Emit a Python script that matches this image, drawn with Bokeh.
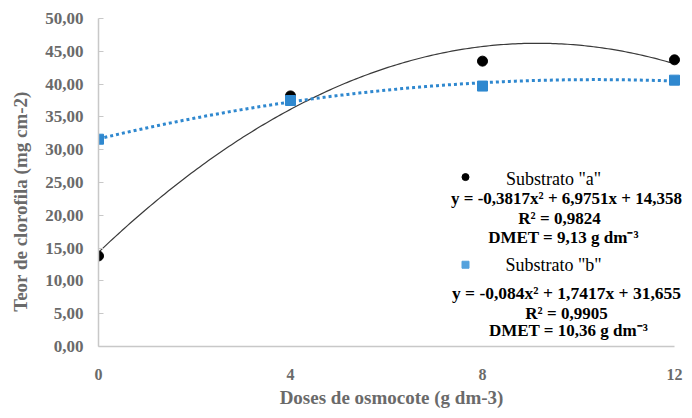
import numpy as np
from bokeh.plotting import figure
from bokeh.models import Range1d, FixedTicker, CustomJSTickFormatter
from bokeh.core.properties import value
from bokeh.embed import file_html
from bokeh.resources import INLINE

# data
doses = [0, 4, 8, 12]
subst_a = [13.8, 38.2, 43.5, 43.7]
subst_b = [31.6, 37.5, 39.7, 40.6]
coef_a = [-0.3817, 6.9751, 14.358]
coef_b = [-0.084, 1.7417, 31.655]
x_ticks = [0, 4, 8, 12]
y_ticks = [0, 5, 10, 15, 20, 25, 30, 35, 40, 45, 50]

SERIF = "Liberation Serif"
GRAY = "#6a6a6a"
BLUE = "#2f88cf"
LBLUE = "#55a2dd"

W, H = 684, 410
L, R, T, B = 98, 0, 18, 59
FW = W - L - R
FH = H - T - B
X12 = 674                      # image x where dose 12 sits
PXU = (X12 - L) / 12           # px per dose unit
p = figure(width=W, height=H, output_backend="svg", toolbar_location=None,
           x_range=Range1d(0, FW / PXU), y_range=Range1d(0, 50),
           min_border_left=L, min_border_right=R, min_border_top=T, min_border_bottom=B)
p.outline_line_color = None
p.xgrid.visible = False
p.ygrid.visible = False

# trend curves from the displayed regression equations
xs = np.linspace(0, 12, 200)
ya = coef_a[0] * xs**2 + coef_a[1] * xs + coef_a[2]
yb = coef_b[0] * xs**2 + coef_b[1] * xs + coef_b[2]
p.line(xs, ya, line_color="#3a3a3a", line_width=1.2)
p.line(xs, yb, line_color=BLUE, line_width=3, line_dash="3 3")

p.scatter(doses, subst_a, marker="circle", size=10, fill_color="black", line_color="black")
p.scatter(doses, subst_b, marker="square", size=10, fill_color=BLUE, line_color=BLUE)

# axes
p.xaxis.ticker = FixedTicker(ticks=x_ticks)
p.xaxis.bounds = (0, 12)
p.yaxis.ticker = FixedTicker(ticks=y_ticks)
p.yaxis.formatter = CustomJSTickFormatter(code="return tick.toFixed(2).replace('.', ',');")
for ax in (p.xaxis[0], p.yaxis[0]):
    ax.axis_line_color = "#c8c8c8"
    ax.axis_line_width = 1.5
    ax.major_tick_line_color = "#c8c8c8"
    ax.minor_tick_line_color = None
    ax.major_label_text_font = SERIF
    ax.major_label_text_color = GRAY
    ax.major_label_text_font_style = "bold"
    ax.major_label_text_font_size = "17px"
    ax.axis_label_text_font = SERIF
    ax.axis_label_text_color = GRAY
    ax.axis_label_text_font_style = "bold"
    ax.axis_label_text_font_size = "19px"
p.xaxis.major_label_text_font_size = "16px"
p.xaxis.major_tick_in = 0
p.xaxis.major_tick_out = 0
p.yaxis.major_tick_in = 5
p.yaxis.major_tick_out = 0
p.yaxis.major_label_standoff = 15
p.xaxis.major_label_standoff = 22
p.xaxis.axis_label = "Doses de osmocote (g dm-3)"
p.xaxis.axis_label_standoff = 4
# y title: trailing no-break spaces push the visible text lower, as in the reference
p.yaxis.axis_label = "Teor de clorofila (mg cm-2)" + "\u00a0" * 8
p.yaxis.axis_label_standoff = 11

# helpers: image-pixel position -> data units
def px_x(px):
    return (px - L) / PXU

def px_y(py):
    return (T + FH - py) / (FH / 50)

# legend-like annotations
p.scatter([px_x(465)], [px_y(179)], marker="circle", size=7, fill_color="black", line_color="black")
p.scatter([px_x(465)], [px_y(268)], marker="square", size=7, fill_color=LBLUE, line_color=LBLUE)

labels = [
    ("Substrato \"a\"", 553, 181, "normal", "18px"),
    ("y = -0,3817x² + 6,9751x + 14,358", 566, 201, "bold", "17px"),
    ("R² = 0,9824", 559, 221, "bold", "17px"),
    ("DMET = 9,13 g dm⁻³", 563, 240, "bold", "17px"),
    ("Substrato \"b\"", 553, 268, "normal", "18px"),
    ("y = -0,084x² + 1,7417x + 31,655", 566, 297, "bold", "17.5px"),
    ("R² = 0,9905", 566, 318, "bold", "17px"),
    ("DMET = 10,36 g dm⁻³", 568, 335, "bold", "17px"),
]
for txt, x, y, style, size in labels:
    p.text(x=[px_x(x)], y=[px_y(y)], text=[txt], text_font=value(SERIF),
           text_font_style=style, text_font_size=size, text_align="center",
           text_baseline="middle", text_color="black")

open("out.html", "w").write(file_html(p, INLINE))
